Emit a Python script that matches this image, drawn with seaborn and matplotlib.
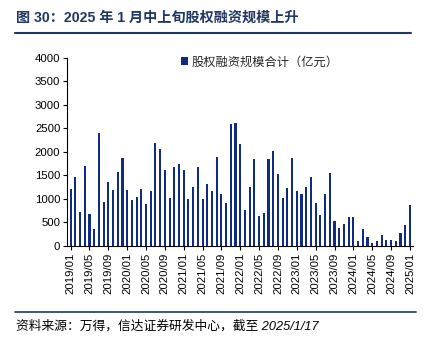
import matplotlib
matplotlib.use("Agg")
import matplotlib.pyplot as plt
import seaborn as sns
import pandas as pd
from matplotlib.patches import Patch
from matplotlib.lines import Line2D

months = [f"{y}/{m:02d}" for y in range(2019, 2026) for m in range(1, 13)][:73]
values = [1214, 1464, 714, 1693, 679, 357, 2393, 943, 1357, 1200, 1564, 1879,
          1200, 971, 1050, 1221, 886, 1164, 2200, 2071, 1607, 1021, 1679, 1750,
          1614, 1000, 1257, 1679, 1000, 1329, 1171, 1886, 1114, 921, 2593, 2607,
          2179, 764, 1264, 1843, 629, 693, 1857, 2014, 1536, 1014, 1236, 1871,
          1171, 1114, 1264, 1471, 921, 664, 1107, 1550, 536, 393, 464, 614,
          614, 100, 357, 193, 64, 107, 229, 121, 136, 107, 279, 450,
          871]
series_name = "股权融资规模合计（亿元）"
title = "图 30：2025 年 1 月中上旬股权融资规模上升"
source = "资料来源：万得，信达证券研发中心，截至 2025/1/17"
yticks = [0, 500, 1000, 1500, 2000, 2500, 3000, 3500, 4000]

df = pd.DataFrame({"month": months, "value": values})

sns.set_theme(style="white")
plt.rcParams['font.family'] = ['Liberation Sans', 'Noto Sans CJK SC', 'DejaVu Sans']

bar_color = "#0F2B84"
navy = "#1F3864"

fig = plt.figure(figsize=(4.26, 3.45), dpi=100)
ax = fig.add_axes([0.158, 0.287, 0.812, 0.545])

sns.barplot(data=df, x="month", y="value", color=bar_color, width=0.45,
            saturation=1, ax=ax, edgecolor="none")

ax.set_ylim(0, 4000)
ax.set_yticks(yticks)
ax.set_yticklabels([str(v) for v in yticks], fontsize=8.2, color="black")
ax.set_xlim(-0.7, len(months) - 0.3)
tick_pos = list(range(0, len(months), 4))
ax.set_xticks(tick_pos)
ax.set_xticklabels([months[i] for i in tick_pos], rotation=90, fontsize=8.2, color="black")
ax.set_xlabel("")
ax.set_ylabel("")
for s in ["top", "right"]:
    ax.spines[s].set_visible(False)
for s in ["left", "bottom"]:
    ax.spines[s].set_color("black")
    ax.spines[s].set_linewidth(0.8)
ax.tick_params(axis="both", which="major", direction="out", length=3, width=0.8,
               color="black", left=True, bottom=True, pad=2)
ax.grid(False)

handle = Patch(facecolor=bar_color, edgecolor="none")
ax.legend([handle], [series_name], loc="upper left", bbox_to_anchor=(0.315, 1.035),
          frameon=False, fontsize=8.8, handlelength=0.55, handleheight=0.55,
          handletextpad=0.3, borderaxespad=0)

fig.text(16 / 426, 1 - 18 / 345, title, fontsize=10.2, fontweight="bold",
         color=navy, va="center", ha="left")
fig.add_artist(Line2D([15 / 426, 411 / 426], [1 - 33 / 345, 1 - 33 / 345],
                      color=navy, linewidth=1.5, transform=fig.transFigure))
fig.add_artist(Line2D([15 / 426, 416 / 426], [1 - 311.5 / 345, 1 - 311.5 / 345],
                      color=navy, linewidth=1.2, transform=fig.transFigure))
fig.text(16 / 426, 1 - 326 / 345, source, fontsize=9.2, style="italic",
         color="black", va="center", ha="left")

fig.savefig("out.png", dpi=100)
